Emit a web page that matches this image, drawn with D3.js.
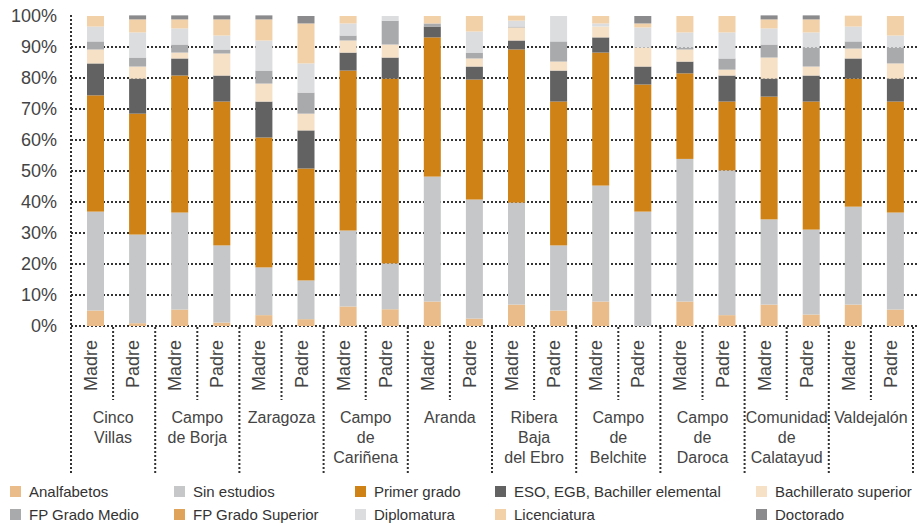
<!DOCTYPE html>
<html>
<head>
<meta charset="utf-8">
<script src="https://cdn.jsdelivr.net/npm/d3@7"></script>
<style>
  html, body { margin: 0; padding: 0; background: #fff; }
  svg { display: block; font-family: "Liberation Sans", Arial, Helvetica, sans-serif; }
</style>
</head>
<body>
<svg id="chart" width="917" height="523"></svg>
<script>
// ---- DATA ----
const groups = [
  ["Cinco", "Villas"],
  ["Campo", "de Borja"],
  ["Zaragoza"],
  ["Campo", "de", "Cariñena"],
  ["Aranda"],
  ["Ribera", "Baja", "del Ebro"],
  ["Campo", "de", "Belchite"],
  ["Campo", "de", "Daroca"],
  ["Comunidad", "de", "Calatayud"],
  ["Valdejalón"]
];
const parents = ["Madre", "Padre"];
const seriesNames = [
  "Analfabetos", "Sin estudios", "Primer grado", "ESO, EGB, Bachiller elemental",
  "Bachillerato superior", "FP Grado Medio", "FP Grado Superior", "Diplomatura",
  "Licenciatura", "Doctorado"
];
// values per bar: Cinco Villas M, P, Campo de Borja M, P, ... Valdejalón M, P
const analfabetos   = [5.0, 0.9, 5.3, 1.1, 3.5, 2.2, 6.3, 5.4, 7.9, 2.4, 6.9, 5.0, 7.9, 0.0, 7.9, 3.5, 6.9, 3.7, 6.9, 5.3];
const sinEstudios   = [31.9, 28.6, 31.3, 24.9, 15.4, 12.5, 24.5, 14.8, 40.3, 38.4, 32.9, 21.0, 37.4, 36.9, 46.0, 46.7, 27.5, 27.4, 31.6, 31.3];
const primerGrado   = [37.5, 39.0, 44.2, 46.4, 41.9, 36.1, 51.6, 59.6, 44.9, 38.7, 49.4, 46.4, 42.9, 41.0, 27.6, 22.2, 39.6, 41.3, 41.3, 35.8];
const eso           = [10.3, 11.3, 5.5, 8.4, 11.6, 12.3, 5.8, 6.8, 3.5, 4.2, 2.9, 10.0, 4.9, 5.8, 3.8, 8.4, 5.8, 8.4, 6.5, 7.4];
const bachSuperior  = [4.5, 3.9, 1.9, 7.1, 5.8, 5.4, 3.9, 4.2, 0.0, 2.6, 4.2, 2.9, 3.5, 6.1, 3.9, 1.9, 6.8, 2.9, 3.2, 4.9];
const fpMedio       = [2.6, 2.9, 2.6, 1.3, 4.2, 6.8, 1.6, 7.7, 1.0, 1.9, 0.3, 6.5, 0.0, 0.0, 0.6, 3.6, 4.2, 6.1, 2.3, 5.1];
const fpSuperior    = [0, 0, 0, 0, 0, 0, 0, 0, 0, 0, 0, 0, 0, 0, 0, 0, 0, 0, 0, 0];
const diplomatura   = [4.8, 8.1, 5.2, 4.5, 9.7, 9.4, 3.9, 1.5, 0.0, 6.8, 1.9, 8.2, 1.0, 6.5, 4.9, 8.4, 5.2, 4.9, 4.8, 3.9];
const licenciatura  = [3.4, 4.2, 2.9, 5.2, 6.8, 12.9, 2.4, 0.0, 2.4, 5.0, 1.6, 0.0, 2.4, 1.3, 5.3, 5.3, 2.9, 4.2, 3.5, 6.3];
const doctorado     = [0.0, 1.3, 1.3, 1.3, 1.3, 2.4, 0.0, 0.0, 0.0, 0.0, 0.0, 0.0, 0.0, 2.4, 0.0, 0.0, 1.3, 1.3, 0.0, 0.0];
const yTicks = [0, 10, 20, 30, 40, 50, 60, 70, 80, 90, 100];
const yTickLabels = ["0%", "10%", "20%", "30%", "40%", "50%", "60%", "70%", "80%", "90%", "100%"];
const colors = ["#e9bc89", "#c6c7c8", "#cf8216", "#626263", "#f6e0c6", "#a9aaac", "#e0a35a", "#dcdddf", "#f2d0a8", "#8b8b8d"];

// ---- BUILD TABLE ----
const seriesValues = [analfabetos, sinEstudios, primerGrado, eso, bachSuperior, fpMedio, fpSuperior, diplomatura, licenciatura, doctorado];
const bars = [];
groups.forEach((g, gi) => parents.forEach((p, pi) => {
  const idx = gi * 2 + pi;
  const row = { idx: idx, parent: p };
  seriesNames.forEach((s, si) => row[s] = seriesValues[si][idx]);
  bars.push(row);
}));
const stacked = d3.stack().keys(seriesNames)(bars);

// ---- SCALES ----
const svg = d3.select("#chart");
const x = d3.scaleBand().domain(d3.range(bars.length)).range([71, 913]).padding(0);
const y = d3.scaleLinear().domain([0, 100]).range([326, 16]);
const color = d3.scaleOrdinal().domain(seriesNames).range(colors);
const bw = x.bandwidth();
const barOffset = 16, barWidth = 17;
const dot = { stroke: "#333", width: 2, dash: "2,2" };

// gridlines (0..90%)
svg.append("g").selectAll("line")
  .data(yTicks.filter(t => t < 100))
  .join("line")
  .attr("x1", 71).attr("x2", 917)
  .attr("y1", d => Math.round(y(d))).attr("y2", d => Math.round(y(d)))
  .attr("stroke", dot.stroke).attr("stroke-width", dot.width).attr("stroke-dasharray", dot.dash);

// y axis (dotted) - vertical line from top down to the bottom of group labels
svg.append("line")
  .attr("x1", 71).attr("x2", 71).attr("y1", 15).attr("y2", 474)
  .attr("stroke", dot.stroke).attr("stroke-width", dot.width).attr("stroke-dasharray", dot.dash);

// y tick labels via d3 axis
const yAxis = d3.axisLeft(y).tickValues(yTicks).tickFormat((d, i) => yTickLabels[i]).tickSize(0).tickPadding(14);
const yg = svg.append("g").attr("transform", "translate(71,0)").call(yAxis);
yg.select(".domain").remove();
yg.selectAll("text").attr("font-size", 18).attr("fill", "#444")
  .attr("font-family", "'Liberation Sans', Arial, sans-serif");

// bars
svg.append("g").selectAll("g")
  .data(stacked)
  .join("g")
  .attr("fill", d => color(d.key))
  .selectAll("rect")
  .data(d => d)
  .join("rect")
  .attr("x", d => x(d.data.idx) + barOffset)
  .attr("width", barWidth)
  .attr("y", d => y(d[1]))
  .attr("height", d => Math.max(0, y(d[0]) - y(d[1])));

// separators between Madre/Padre (short) and between groups (long)
const sep = svg.append("g");
d3.range(bars.length + 1).forEach(i => {
  const xx = i < bars.length ? x(i) : x.range()[1];
  const isGroup = i % 2 === 0;
  if (i === 0) return; // axis already drawn
  sep.append("line")
    .attr("x1", xx).attr("x2", xx)
    .attr("y1", 327).attr("y2", isGroup ? 474 : 400)
    .attr("stroke", dot.stroke).attr("stroke-width", dot.width).attr("stroke-dasharray", dot.dash);
});

// Madre / Padre labels
svg.append("g").selectAll("text")
  .data(bars)
  .join("text")
  .attr("transform", d => `translate(${x(d.idx) + bw / 2 + 5},340) rotate(-90)`)
  .attr("text-anchor", "end")
  .attr("font-size", 18)
  .attr("fill", "#444")
  .text(d => d.parent);

// group labels
const gl = svg.append("g");
groups.forEach((lines, gi) => {
  const cx = (x(gi * 2) + x(gi * 2 + 1) + bw) / 2;
  const t = gl.append("text").attr("text-anchor", "middle").attr("font-size", 16).attr("fill", "#444");
  lines.forEach((ln, li) => {
    t.append("tspan").attr("x", cx).attr("y", 423 + li * 20).text(ln);
  });
});

// legend
const legendCols = [10, 174, 355, 495, 756];
const legendRows = [486, 509];
const lg = svg.append("g");
seriesNames.forEach((s, i) => {
  const col = i % 5, row = Math.floor(i / 5);
  const g = lg.append("g").attr("transform", `translate(${legendCols[col]},${legendRows[row]})`);
  g.append("rect").attr("width", 11).attr("height", 11).attr("fill", color(s));
  g.append("text").attr("x", 19).attr("y", 11).attr("font-size", 15).attr("fill", "#333").text(s);
});
</script>
</body>
</html>
